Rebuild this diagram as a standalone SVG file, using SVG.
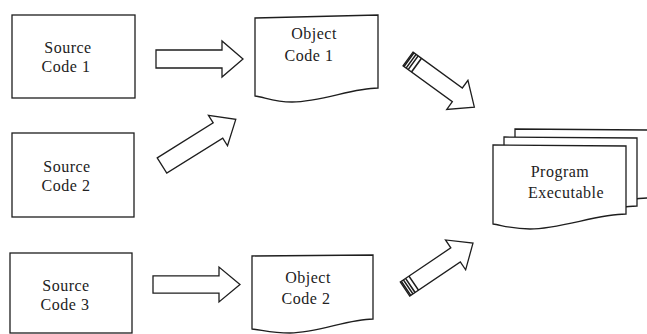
<svg xmlns="http://www.w3.org/2000/svg" width="647" height="334" viewBox="0 0 647 334">
  <style>
    .shape { fill: #fff; stroke: #1e1e1e; stroke-width: 1.3; stroke-linejoin: miter; }
    .label { font-family: "Liberation Serif", "Times New Roman", serif; font-size: 16px; letter-spacing: 0.5px; fill: #222; text-anchor: middle; }
    .rib { stroke: #1e1e1e; stroke-width: 1.6; fill: none; }
  </style>
  <defs>
    <!-- block arrow pointing along +x, tail at origin -->
    <path id="block-arrow" d="M0,-9 L66,-9 L66,-18 L87,0 L66,18 L66,9 L0,9 Z"/>
    <!-- shorter block arrow with a ribbed tail cap -->
    <g id="capped-arrow">
      <path class="shape" d="M0,-8.5 L61,-8.5 L61,-18 L82,0 L61,18 L61,8.5 L0,8.5 Z"/>
      <path class="rib" d="M1.2,-8.5 V8.5 M3.8,-8.5 V8.5 M6.4,-8.5 V8.5 M10.5,-8.5 V8.5"/>
    </g>
    <!-- document page with wavy bottom edge -->
    <path id="prog-page" d="M493,145 L626,146 L626,214 C598,214 560,229 530,229 C512,229 501,225 493,224 Z"/>
  </defs>

  <rect width="647" height="334" fill="#fff"/>

  <!-- source files -->
  <g id="source1">
    <rect class="shape" x="12" y="15" width="123" height="83"/>
    <text class="label" x="68" y="53">Source</text>
    <text class="label" x="66" y="72">Code 1</text>
  </g>
  <g id="source2">
    <rect class="shape" x="12" y="133" width="122" height="84"/>
    <text class="label" x="67" y="172">Source</text>
    <text class="label" x="66" y="191">Code 2</text>
  </g>
  <g id="source3">
    <rect class="shape" x="10" y="253" width="122" height="80"/>
    <text class="label" x="66" y="291">Source</text>
    <text class="label" x="65" y="310">Code 3</text>
  </g>

  <!-- object files -->
  <g id="object1">
    <path class="shape" d="M255,18 L378,15 L378,88 C352,88 322,102 292,102 C274,102 264,97 255,96 Z"/>
    <text class="label" x="314" y="39">Object</text>
    <text class="label" x="309" y="61">Code 1</text>
  </g>
  <g id="object2">
    <path class="shape" d="M252,256 L373,255 L373,319 C348,319 318,333 290,333 C272,333 262,330 252,329 Z"/>
    <text class="label" x="308" y="283">Object</text>
    <text class="label" x="306" y="304">Code 2</text>
  </g>

  <!-- linked program: stacked pages -->
  <g id="program">
    <use href="#prog-page" class="shape" transform="translate(22,-16)"/>
    <use href="#prog-page" class="shape" transform="translate(11,-8)"/>
    <use href="#prog-page" class="shape"/>
    <text class="label" x="560" y="177">Program</text>
    <text class="label" x="566" y="198">Executable</text>
  </g>

  <!-- connectors -->
  <g id="connectors">
    <use href="#block-arrow" class="shape" transform="translate(156,59)"/>
    <use href="#block-arrow" class="shape" transform="translate(162,165.5) rotate(-32)"/>
    <use href="#block-arrow" class="shape" transform="translate(153,284.5) scale(1,0.97)"/>
    <use href="#capped-arrow" transform="translate(408,59) rotate(36)"/>
    <use href="#capped-arrow" transform="translate(405,289) rotate(-34)"/>
  </g>
</svg>
